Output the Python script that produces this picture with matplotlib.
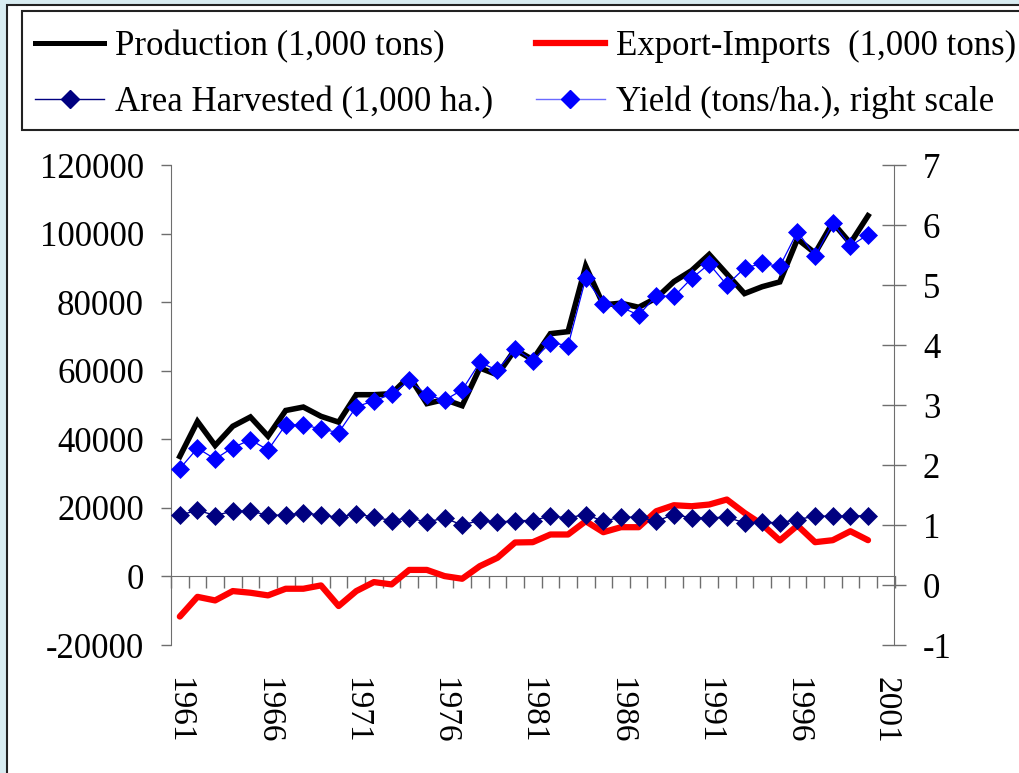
import matplotlib
matplotlib.use("Agg")
import matplotlib.pyplot as plt
from matplotlib.patches import Rectangle
from matplotlib.lines import Line2D
import numpy as np

years = list(range(1961, 2001))
production = [35000, 45200, 38200, 43800, 46500, 40900, 48400, 49400, 46700, 45000,
              53000, 53000, 53300, 58300, 50400, 51600, 49800, 60800, 58800, 66200,
              63200, 70800, 71400, 90500, 79200, 79700, 78500, 81200, 86000, 89200,
              93900, 88200, 82500, 84500, 85900, 98400, 94300, 103200, 97200, 105200]
export_imports = [-11700, -5950, -7000, -4270, -4760, -5530, -3590, -3590, -2620, -8640,
                  -4270, -1650, -2330, 1900, 1900, 100, -680, 3000, 5440, 9900,
                  9990, 12230, 12230, 16110, 12900, 14360, 14360, 19020, 20770, 20480,
                  20970, 22430, 18540, 15150, 10490, 14850, 9990, 10570, 13190, 10570]
area = [17860, 19320, 17770, 19030, 19030, 17860, 17860, 18540, 17860, 17280,
        18250, 17280, 16310, 17090, 15820, 17090, 14950, 16400, 15820, 16250,
        16310, 17570, 17090, 18060, 16110, 17280, 17280, 16110, 18060, 17090,
        17090, 17280, 15630, 15820, 15630, 16600, 17570, 17570, 17570, 17770]
yield_ = [1.94, 2.28, 2.10, 2.29, 2.42, 2.25, 2.67, 2.67, 2.60, 2.54,
          2.97, 3.07, 3.18, 3.41, 3.17, 3.08, 3.25, 3.71, 3.58, 3.94,
          3.74, 4.04, 3.99, 5.11, 4.69, 4.63, 4.50, 4.82, 4.81, 5.11,
          5.35, 5.00, 5.28, 5.36, 5.31, 5.89, 5.48, 6.03, 5.65, 5.84]

label_years = list(range(1961, 2002, 5))
left_ticks = list(range(-20000, 120001, 20000))
right_ticks = list(range(-1, 8))

labels = ["Production (1,000 tons)", "Area Harvested (1,000 ha.)",
          "Export-Imports  (1,000 tons)", "Yield (tons/ha.), right scale"]

W, H = 1019, 773
FONT = "Liberation Serif"
GRAY = "#6e6e6e"
plt.rcParams['font.family'] = [FONT, 'DejaVu Serif']
plt.rcParams['axes.unicode_minus'] = False

fig = plt.figure(figsize=(W / 100, H / 100), dpi=100)
fig.patch.set_facecolor("#d8ecf1")

# white panel and legend frame
fig.patches.append(Rectangle((6.5 / W, -0.05), 1.2, 1.05 - 5 / H, transform=fig.transFigure,
                             facecolor="white", edgecolor="#222222", lw=1.5, zorder=-3))
fig.patches.append(Rectangle((22 / W, 1 - 130 / H), 1.2, (130 - 11) / H, transform=fig.transFigure,
                             facecolor="white", edgecolor="#222222", lw=1.5, zorder=-2))

ax = fig.add_axes([171 / W, 1 - 645 / H, (894.5 - 171) / W, (645 - 165) / H])
ax.patch.set_alpha(0)

MS = 9.5
ax.plot(years, export_imports, color="#ff0000", lw=4.5, solid_joinstyle="round",
        solid_capstyle="round", zorder=2)
ax.plot(years, production, color="black", lw=4.0, solid_joinstyle="miter", zorder=3)
ax.plot(years, area, color="#000080", lw=1.0, marker="D", markersize=MS,
        markerfacecolor="#000080", markeredgecolor="#000080", markeredgewidth=0.5, zorder=4)

ax.set_xlim(years[0] - 0.5, label_years[-1] + 0.5)
ax.set_ylim(left_ticks[0], left_ticks[-1])
ax.set_yticks(left_ticks)
ax.set_xticks(label_years)
ax.set_xticklabels([str(y) for y in label_years], rotation=270, fontsize=24)
ax.tick_params(axis='x', length=0, pad=23)
ax.tick_params(axis='y', direction='out', length=7.5, width=1, color=GRAY,
               labelsize=25, pad=12)
for s in ("top", "bottom", "right"):
    ax.spines[s].set_visible(False)
ax.spines["left"].set_color(GRAY)

# category axis line at y=0 with boundary ticks
sec = ax.secondary_xaxis(20000 / 140000)
sec.set_xticks(np.arange(years[0] - 0.5, label_years[-1] + 0.51, 1.0))
sec.set_xticklabels([])
sec.tick_params(direction='out', length=8.5, width=1, color=GRAY)
sec.spines["bottom"].set_color(GRAY)

ax2 = ax.twinx()
ax2.plot(years, yield_, color="#0000ff", lw=0.9, marker="D", markersize=MS,
         markerfacecolor="#0000ff", markeredgecolor="#0000ff", markeredgewidth=0.5, zorder=5)
ax2.set_ylim(right_ticks[0], right_ticks[-1])
ax2.set_yticks(right_ticks)
ax2.tick_params(axis='y', direction='inout', length=17, width=1, color=GRAY,
                labelsize=25, pad=12)
for s in ("top", "bottom", "left"):
    ax2.spines[s].set_visible(False)
ax2.spines["right"].set_color(GRAY)

handles = [
    Line2D([], [], color="black", lw=3.6),
    Line2D([], [], color="#000080", lw=1.0, marker="D", markersize=MS,
           markerfacecolor="#000080", markeredgecolor="#000080"),
    Line2D([], [], color="#ff0000", lw=4.5),
    Line2D([], [], color="#6a6aff", lw=1.0, marker="D", markersize=MS,
           markerfacecolor="#0000ff", markeredgecolor="#0000ff"),
]
fig.legend(handles, labels, loc="upper left", bbox_to_anchor=(35 / W, 1 - 30 / H),
           ncol=2, frameon=False, handlelength=2.0, handletextpad=0.3,
           columnspacing=1.23, labelspacing=0.65, borderpad=0, borderaxespad=0,
           prop={"family": FONT, "size": 25}, numpoints=1)

fig.savefig("out.png", dpi=100, facecolor=fig.get_facecolor())
